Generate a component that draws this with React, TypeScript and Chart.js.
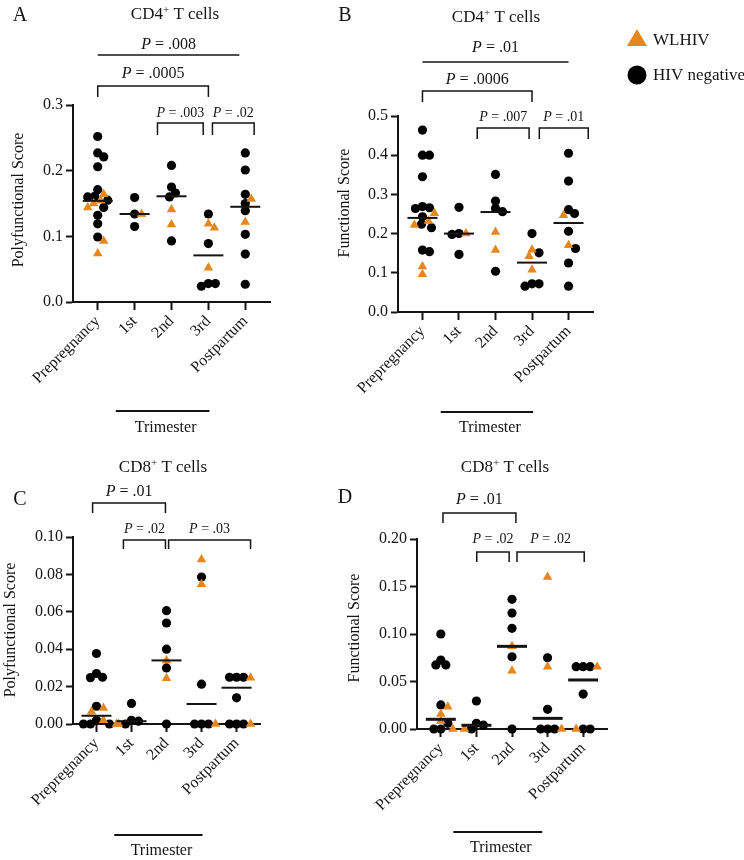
import React, { useEffect, useRef } from 'react';
import { Chart, registerables } from 'chart.js';

Chart.register(...registerables);

const FONT = '"Liberation Serif", "Times New Roman", serif';
const ORANGE = '#E5861F';
const INK = '#141414';

const categories = ['Prepregnancy', '1st', '2nd', '3rd', 'Postpartum'];
const X_MIN = -0.67;
const X_MAX = 4.67;

// ---------- Panel A: CD4+ polyfunctional score ----------
const A_black = [
  [0.252, 0.227, 0.221, 0.206, 0.171, 0.161, 0.16, 0.155, 0.144, 0.132, 0.119, 0.099],
  [0.159, 0.134, 0.115],
  [0.208, 0.175, 0.166, 0.16, 0.093],
  [0.134, 0.089, 0.028, 0.028, 0.024],
  [0.227, 0.201, 0.164, 0.15, 0.139, 0.103, 0.073, 0.027],
];
const A_orange = [
  [0.164, 0.154, 0.15, 0.144, 0.093, 0.074],
  [0.134],
  [0.141, 0.118],
  [0.119, 0.113, 0.052],
  [0.157, 0.122],
];
const A_median = [0.154, 0.134, 0.161, 0.071, 0.145];
const A_yTicks = [0, 0.1, 0.2, 0.3];
const A_pLabels = ['.008', '.0005', '.003', '.02'];

// ---------- Panel B: CD4+ functional score ----------
const B_black = [
  [0.464, 0.4, 0.4, 0.345, 0.269, 0.266, 0.264, 0.243, 0.224, 0.215, 0.158, 0.154],
  [0.267, 0.2, 0.198, 0.147],
  [0.351, 0.283, 0.264, 0.256, 0.104],
  [0.2, 0.151, 0.072, 0.072, 0.066],
  [0.405, 0.334, 0.261, 0.251, 0.206, 0.162, 0.125, 0.066],
];
const B_orange = [
  [0.252, 0.232, 0.222, 0.116, 0.096],
  [0.2],
  [0.204, 0.158],
  [0.159, 0.142, 0.108],
  [0.247, 0.17],
];
const B_median = [0.24, 0.2, 0.255, 0.126, 0.227];
const B_yTicks = [0, 0.1, 0.2, 0.3, 0.4, 0.5];
const B_pLabels = ['.01', '.0006', '.007', '.01'];

// ---------- Panel C: CD8+ polyfunctional score ----------
const C_black = [
  [0.0377, 0.027, 0.025, 0.0248, 0.0095, 0.002, 0, 0, 0],
  [0.011, 0.002, 0.0015, 0],
  [0.0606, 0.054, 0.04, 0.03, 0],
  [0.0786, 0.0213, 0, 0, 0],
  [0.025, 0.025, 0.025, 0.014, 0, 0, 0],
];
const C_orange = [
  [0.0085, 0.0065, 0.002, 0],
  [0],
  [0.034, 0.0245],
  [0.088, 0.0747, 0],
  [0.0247, 0],
];
const C_median = [0.0044, 0.0015, 0.034, 0.0107, 0.0194];
const C_yTicks = [0, 0.02, 0.04, 0.06, 0.08, 0.1];
const C_pLabels = ['.01', '.02', '.03'];

// ---------- Panel D: CD8+ functional score ----------
const D_black = [
  [0.1, 0.0726, 0.0674, 0.0674, 0.0253, 0.006, 0, 0],
  [0.0295, 0.006, 0.004, 0],
  [0.1365, 0.122, 0.106, 0.076, 0],
  [0.075, 0.0207, 0, 0, 0],
  [0.0656, 0.0656, 0.0656, 0.0368, 0, 0],
];
const D_orange = [
  [0.0235, 0.0158, 0.0084, 0],
  [0],
  [0.087, 0.0614],
  [0.16, 0.0656, 0],
  [0.0656, 0],
];
const D_median = [0.0102, 0.0039, 0.087, 0.0112, 0.0516];
const D_yTicks = [0, 0.05, 0.1, 0.15, 0.2];
const D_pLabels = ['.01', '.02', '.02'];

type Bracket = { from: number; to: number; label: string; y: number; drop: number; ty: number; fs: number };
type Panel = {
  letter: string; letterPos: [number, number];
  titleBase: string; titleSup: string; titleRest: string; titlePos: [number, number];
  yLabel: string; yLabelPos: [number, number];
  yTicks: number[]; yDec: number;
  black: number[][]; orange: number[][]; median: number[]; medW: number;
  brackets: Bracket[];
  tri: { from: number; to: number; y: number; ty: number };
  box: { left: number; top: number; w: number; h: number };
  area: { left: number; top: number; right: number; bottom: number };
  legend?: boolean;
};

const panels: Panel[] = [
  {
    letter: 'A', letterPos: [20, 16],
    titleBase: 'CD4', titleSup: '+', titleRest: ' T cells', titlePos: [175, 15],
    yLabel: 'Polyfunctional Score', yLabelPos: [19, 200],
    yTicks: A_yTicks, yDec: 1,
    black: A_black, orange: A_orange, median: A_median, medW: 2,
    brackets: [
      { from: 0, to: 3.84, label: A_pLabels[0], y: 55, drop: 0, ty: 45, fs: 16 },
      { from: 0, to: 3, label: A_pLabels[1], y: 86, drop: 11, ty: 74, fs: 16 },
      { from: 1.62, to: 2.86, label: A_pLabels[2], y: 123, drop: 12, ty: 113, fs: 14 },
      { from: 3.11, to: 4.24, label: A_pLabels[3], y: 123, drop: 12, ty: 113, fs: 14 },
    ],
    tri: { from: 0.49, to: 3.03, y: 411, ty: 428 },
    box: { left: 0, top: 0, w: 300, h: 440 },
    area: { left: 73, top: 105, right: 270, bottom: 302 },
  },
  {
    letter: 'B', letterPos: [45, 16],
    titleBase: 'CD4', titleSup: '+', titleRest: ' T cells', titlePos: [196, 18],
    yLabel: 'Functional Score', yLabelPos: [45, 203],
    yTicks: B_yTicks, yDec: 1,
    black: B_black, orange: B_orange, median: B_median, medW: 2,
    brackets: [
      { from: 0, to: 4, label: B_pLabels[0], y: 62, drop: 0, ty: 48, fs: 16 },
      { from: 0, to: 3, label: B_pLabels[1], y: 91, drop: 11, ty: 80, fs: 16 },
      { from: 1.5, to: 2.92, label: B_pLabels[2], y: 128, drop: 11, ty: 117, fs: 14 },
      { from: 3.2, to: 4.54, label: B_pLabels[3], y: 128, drop: 11, ty: 117, fs: 14 },
    ],
    tri: { from: 0.5, to: 3.03, y: 412, ty: 428 },
    box: { left: 300, top: 0, w: 444, h: 440 },
    area: { left: 98, top: 116, right: 293, bottom: 312 },
    legend: true,
  },
  {
    letter: 'C', letterPos: [20, 70],
    titleBase: 'CD8', titleSup: '+', titleRest: ' T cells', titlePos: [163, 38],
    yLabel: 'Polyfunctional Score', yLabelPos: [11, 200],
    yTicks: C_yTicks, yDec: 2,
    black: C_black, orange: C_orange, median: C_median, medW: 2,
    brackets: [
      { from: -0.11, to: 1.97, label: C_pLabels[0], y: 73, drop: 10, ty: 62, fs: 16 },
      { from: 0.77, to: 1.97, label: C_pLabels[1], y: 110, drop: 9, ty: 99, fs: 14 },
      { from: 2.06, to: 4.4, label: C_pLabels[2], y: 110, drop: 9, ty: 99, fs: 14 },
    ],
    tri: { from: 0.51, to: 3.03, y: 405, ty: 421 },
    box: { left: 0, top: 430, w: 300, h: 430 },
    area: { left: 73, top: 107, right: 260, bottom: 294 },
  },
  {
    letter: 'D', letterPos: [45, 68],
    titleBase: 'CD8', titleSup: '+', titleRest: ' T cells', titlePos: [205, 38],
    yLabel: 'Functional Score', yLabelPos: [55, 198],
    yTicks: D_yTicks, yDec: 2,
    black: D_black, orange: D_orange, median: D_median, medW: 3,
    brackets: [
      { from: 0.06, to: 2.11, label: D_pLabels[0], y: 83, drop: 10, ty: 70, fs: 16 },
      { from: 1.01, to: 1.92, label: D_pLabels[1], y: 122, drop: 10, ty: 109, fs: 14 },
      { from: 2.14, to: 4.03, label: D_pLabels[2], y: 122, drop: 10, ty: 109, fs: 14 },
    ],
    tri: { from: 0.35, to: 2.85, y: 402, ty: 418 },
    box: { left: 300, top: 430, w: 320, h: 430 },
    area: { left: 117, top: 109, right: 307, bottom: 299 },
  },
];

type Pt = { x: number; y: number };
const MIN_GAP = 7;
const MED_HALF = 15;
const X_AXIS_H = 100;

function buildPoints(black: number[][], orange: number[][], pxX: number, pxY: number) {
  const b: Pt[] = [];
  const o: Pt[] = [];
  black.forEach((vals, cat) => {
    const items = [
      ...vals.map((v) => ({ v, g: 0 })),
      ...(orange[cat] || []).map((v) => ({ v, g: 1 })),
    ].sort((p, q) => q.v - p.v);
    const placed: { px: number; py: number }[] = [];
    for (const it of items) {
      const py = it.v * pxY;
      let off = 0;
      for (let k = 0; k < 120; k++) {
        const cand = k === 0 ? 0 : (k % 2 ? 1 : -1) * Math.ceil(k / 2);
        if (placed.every((p) => Math.hypot(p.px - cand, p.py - py) >= MIN_GAP)) {
          off = cand;
          break;
        }
      }
      placed.push({ px: off, py });
      (it.g ? o : b).push({ x: cat + off / pxX, y: it.v });
    }
  });
  return { b, o };
}

function drawP(ctx: CanvasRenderingContext2D, label: string, cx: number, cy: number, size: number) {
  const it = `italic ${size}px ${FONT}`;
  const rg = `${size}px ${FONT}`;
  ctx.font = it;
  const w1 = ctx.measureText('P').width;
  const rest = ' = ' + label;
  ctx.font = rg;
  const w2 = ctx.measureText(rest).width;
  const x0 = cx - (w1 + w2) / 2;
  ctx.textAlign = 'left';
  ctx.textBaseline = 'middle';
  ctx.font = it;
  ctx.fillText('P', x0, cy);
  ctx.font = rg;
  ctx.fillText(rest, x0 + w1, cy);
}

function drawTitle(ctx: CanvasRenderingContext2D, p: Panel) {
  const size = 17;
  const ss = 11;
  const f = `${size}px ${FONT}`;
  const fs = `${ss}px ${FONT}`;
  ctx.font = f;
  const w1 = ctx.measureText(p.titleBase).width;
  const w3 = ctx.measureText(p.titleRest).width;
  ctx.font = fs;
  const w2 = ctx.measureText(p.titleSup).width;
  const [cx, cy] = p.titlePos;
  const x0 = cx - (w1 + w2 + w3) / 2;
  ctx.textAlign = 'left';
  ctx.textBaseline = 'middle';
  ctx.font = f;
  ctx.fillText(p.titleBase, x0, cy);
  ctx.font = fs;
  ctx.fillText(p.titleSup, x0 + w1, cy - 5);
  ctx.font = f;
  ctx.fillText(p.titleRest, x0 + w1 + w2, cy);
}

function PanelChart({ p }: { p: Panel }) {
  const ref = useRef<HTMLCanvasElement>(null);
  useEffect(() => {
    const canvas = ref.current;
    if (!canvas) return;
    const yMax = p.yTicks[p.yTicks.length - 1];
    const pxX = (p.area.right - p.area.left) / (X_MAX - X_MIN);
    const pxY = (p.area.bottom - p.area.top) / yMax;
    const pts = buildPoints(p.black, p.orange, pxX, pxY);

    const annot = {
      id: 'annot' + p.letter,
      afterDatasetsDraw(chart: any) {
        const ctx: CanvasRenderingContext2D = chart.ctx;
        const xs = chart.scales.x;
        const ys = chart.scales.y;
        ctx.save();
        ctx.strokeStyle = INK;
        ctx.lineWidth = p.medW;
        p.median.forEach((m, i) => {
          const x = xs.getPixelForValue(i);
          const y = ys.getPixelForValue(m);
          ctx.beginPath();
          ctx.moveTo(x - MED_HALF, y);
          ctx.lineTo(x + MED_HALF, y);
          ctx.stroke();
        });
        ctx.restore();
      },
      afterDraw(chart: any) {
        const ctx: CanvasRenderingContext2D = chart.ctx;
        const xs = chart.scales.x;
        ctx.save();
        ctx.fillStyle = INK;
        ctx.strokeStyle = INK;
        // panel letter
        ctx.font = `20px ${FONT}`;
        ctx.textAlign = 'center';
        ctx.textBaseline = 'middle';
        ctx.fillText(p.letter, p.letterPos[0], p.letterPos[1]);
        // title
        drawTitle(ctx, p);
        // y-axis label
        ctx.save();
        ctx.translate(p.yLabelPos[0], p.yLabelPos[1]);
        ctx.rotate(-Math.PI / 2);
        ctx.font = `16px ${FONT}`;
        ctx.textAlign = 'center';
        ctx.textBaseline = 'middle';
        ctx.fillText(p.yLabel, 0, 0);
        ctx.restore();
        // brackets
        ctx.lineWidth = 1.5;
        p.brackets.forEach((br) => {
          const x1 = xs.getPixelForValue(br.from);
          const x2 = xs.getPixelForValue(br.to);
          ctx.beginPath();
          ctx.moveTo(x1, br.y + br.drop);
          ctx.lineTo(x1, br.y);
          ctx.lineTo(x2, br.y);
          ctx.lineTo(x2, br.y + br.drop);
          ctx.stroke();
          drawP(ctx, br.label, (x1 + x2) / 2, br.ty, br.fs);
        });
        // trimester grouping line
        const t1 = xs.getPixelForValue(p.tri.from);
        const t2 = xs.getPixelForValue(p.tri.to);
        ctx.lineWidth = 2;
        ctx.beginPath();
        ctx.moveTo(t1, p.tri.y);
        ctx.lineTo(t2, p.tri.y);
        ctx.stroke();
        ctx.font = `16px ${FONT}`;
        ctx.textAlign = 'center';
        ctx.textBaseline = 'middle';
        ctx.fillText('Trimester', (t1 + t2) / 2 + 3, p.tri.ty);
        // legend
        if (p.legend) {
          const lx = 337;
          ctx.fillStyle = ORANGE;
          ctx.beginPath();
          ctx.moveTo(lx, 29);
          ctx.lineTo(lx + 10, 46);
          ctx.lineTo(lx - 10, 46);
          ctx.closePath();
          ctx.fill();
          ctx.fillStyle = '#000';
          ctx.beginPath();
          ctx.arc(lx, 75, 9.5, 0, Math.PI * 2);
          ctx.fill();
          ctx.fillStyle = INK;
          ctx.font = `17px ${FONT}`;
          ctx.textAlign = 'left';
          ctx.fillText('WLHIV', lx + 16, 41);
          ctx.fillText('HIV negative', lx + 16, 76);
        }
        ctx.restore();
      },
    };

    const tickFont = { family: FONT, size: 16 };
    const chart = new Chart(canvas, {
      type: 'scatter',
      data: {
        datasets: [
          {
            label: 'WLHIV',
            data: pts.o,
            pointStyle: 'triangle',
            pointRadius: 5.5,
            backgroundColor: ORANGE,
            borderWidth: 0,
            clip: false,
          } as any,
          {
            label: 'HIV negative',
            data: pts.b,
            pointStyle: 'circle',
            pointRadius: 4.6,
            backgroundColor: '#000',
            borderWidth: 0,
            clip: false,
          } as any,
        ],
      },
      options: {
        responsive: false,
        animation: false,
        events: [],
        layout: {
          padding: {
            left: 0,
            top: p.area.top,
            right: p.box.w - p.area.right,
            bottom: p.box.h - p.area.bottom - X_AXIS_H,
          },
        },
        plugins: { legend: { display: false }, tooltip: { enabled: false } },
        scales: {
          x: {
            type: 'linear',
            min: X_MIN,
            max: X_MAX,
            afterBuildTicks: (s: any) => {
              s.ticks = categories.map((_, i) => ({ value: i }));
            },
            afterFit: (s: any) => {
              s.height = X_AXIS_H;
              s.paddingLeft = 0;
              s.paddingRight = 0;
            },
            ticks: {
              callback: (v: any) => categories[Math.round(Number(v))],
              minRotation: 45,
              maxRotation: 45,
              autoSkip: false,
              font: tickFont,
              color: INK,
              padding: 2,
            },
            grid: {
              display: true,
              drawOnChartArea: false,
              drawTicks: true,
              tickLength: 8,
              tickWidth: 2,
              tickColor: INK,
            },
            border: { display: true, color: INK, width: 2 },
          },
          y: {
            type: 'linear',
            min: 0,
            max: yMax,
            afterBuildTicks: (s: any) => {
              s.ticks = p.yTicks.map((v) => ({ value: v }));
            },
            afterFit: (s: any) => {
              s.width = p.area.left;
              s.paddingTop = 0;
              s.paddingBottom = 0;
            },
            ticks: {
              callback: (v: any) => Number(v).toFixed(p.yDec),
              font: tickFont,
              color: INK,
              padding: 3,
            },
            grid: {
              display: true,
              drawOnChartArea: false,
              drawTicks: true,
              tickLength: 7,
              tickWidth: 2,
              tickColor: INK,
            },
            border: { display: true, color: INK, width: 2 },
          },
        },
      },
      plugins: [annot as any],
    });
    return () => chart.destroy();
  }, [p]);
  return (
    <canvas
      ref={ref}
      width={p.box.w}
      height={p.box.h}
      style={{ position: 'absolute', left: p.box.left, top: p.box.top, width: p.box.w, height: p.box.h }}
    />
  );
}

export default function App() {
  return (
    <div style={{ position: 'absolute', left: 0, top: 0, width: 744, height: 860, background: '#fff', overflow: 'hidden' }}>
      {panels.map((p) => (
        <PanelChart key={p.letter} p={p} />
      ))}
    </div>
  );
}
